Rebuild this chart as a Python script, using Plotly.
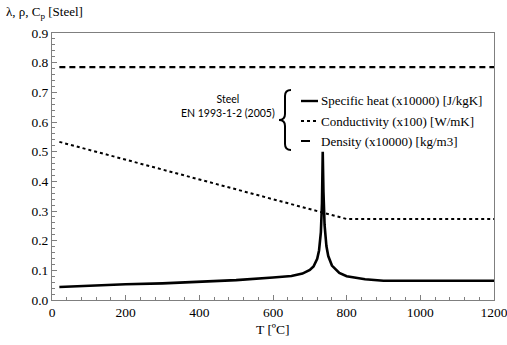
import plotly.graph_objects as go

# ---- data ----
cp_T = [20, 100, 200, 300, 400, 500, 600, 650, 680, 700, 710, 720, 725, 730, 733, 735,
        737, 740, 745, 750, 760, 780, 800, 850, 900, 1000, 1100, 1200]
cp_val = [0.044, 0.049, 0.053, 0.056, 0.061, 0.067, 0.076, 0.081, 0.089, 0.101, 0.113,
          0.139, 0.167, 0.229, 0.327, 0.500, 0.364, 0.253, 0.182, 0.148, 0.116, 0.091,
          0.080, 0.070, 0.065, 0.065, 0.065, 0.065]
k_T = [20, 800, 1200]
k_val = [0.533, 0.273, 0.273]
rho_T = [20, 1200]
rho_val = [0.785, 0.785]

legend_labels = ["Specific heat (x10000) [J/kgK]", "Conductivity (x100) [W/mK]",
                 "Density (x10000) [kg/m3]"]
x_ticks = [0, 200, 400, 600, 800, 1000, 1200]
y_ticks = [0.0, 0.1, 0.2, 0.3, 0.4, 0.5, 0.6, 0.7, 0.8, 0.9]

W, H = 507, 345
L, R, T, B = 52, 13, 33, 45
PW, PH = W - L - R, H - T - B

def px(x):
    return (x - L) / PW

def py(y):
    return (H - B - y) / PH

fig = go.Figure()
fig.add_trace(go.Scatter(x=cp_T, y=cp_val, mode="lines",
                         line=dict(color="black", width=2.6), showlegend=False))
fig.add_trace(go.Scatter(x=k_T, y=k_val, mode="lines",
                         line=dict(color="black", width=2, dash="dot"), showlegend=False))
fig.add_trace(go.Scatter(x=rho_T, y=rho_val, mode="lines",
                         line=dict(color="black", width=2.2, dash="6px,4px"), showlegend=False))

serif = "Liberation Serif"
axis_common = dict(showline=True, linecolor="#7f7f7f", linewidth=1, mirror=True,
                   ticks="inside", ticklen=5, tickcolor="#7f7f7f", showgrid=False,
                   zeroline=False, ticklabeloverflow="allow", automargin=False,
                   tickfont=dict(family=serif, size=13.5, color="black"))
fig.update_xaxes(range=[0, 1200], tickvals=x_ticks, ticktext=[str(v) for v in x_ticks],
                 minor=dict(dtick=40, ticks="inside", ticklen=3, tickcolor="#7f7f7f"),
                 **axis_common)
fig.update_yaxes(range=[0, 0.9], tickvals=y_ticks, ticktext=[f"{v:.1f}" for v in y_ticks],
                 minor=dict(dtick=0.02, ticks="inside", ticklen=3, tickcolor="#7f7f7f"),
                 **axis_common)

shapes = []
annotations = []
leg_y = [101, 121, 141]
leg_dash = ["solid", "dot", "dash"]
leg_w = [2.4, 1.8, 2]
for yy, d, wd, lab in zip(leg_y, leg_dash, leg_w, legend_labels):
    shapes.append(dict(type="line", xref="paper", yref="paper", x0=px(301), x1=px(318),
                       y0=py(yy), y1=py(yy), line=dict(color="black", width=wd, dash=d)))
    annotations.append(dict(xref="paper", yref="paper", x=px(319), y=py(yy), text=lab,
                            showarrow=False, xanchor="left", yanchor="middle",
                            font=dict(family=serif, size=13, color="black")))

# bracket
pts = [(291, 90), (285, 90), (285, 96), (285, 114), (285, 120), (279, 120), (285, 120),
       (285, 126), (285, 144), (285, 150), (291, 150)]
p = [(px(a), py(b)) for a, b in pts]
path = (f"M {p[0][0]},{p[0][1]} Q {p[1][0]},{p[1][1]} {p[2][0]},{p[2][1]} "
        f"L {p[3][0]},{p[3][1]} Q {p[4][0]},{p[4][1]} {p[5][0]},{p[5][1]} "
        f"Q {p[6][0]},{p[6][1]} {p[7][0]},{p[7][1]} L {p[8][0]},{p[8][1]} "
        f"Q {p[9][0]},{p[9][1]} {p[10][0]},{p[10][1]}")
shapes.append(dict(type="path", xref="paper", yref="paper", path=path,
                   line=dict(color="black", width=2)))

annotations.append(dict(xref="paper", yref="paper", x=px(228), y=py(106),
                        text="Steel<br>EN 1993-1-2 (2005)", showarrow=False,
                        xanchor="center", yanchor="middle", align="center",
                        font=dict(family="Lato", size=10.5, color="black")))
annotations.append(dict(xref="paper", yref="paper", x=px(4), y=py(12),
                        text="λ, ρ, C<sub>p</sub> [Steel]", showarrow=False,
                        xanchor="left", yanchor="middle",
                        font=dict(family=serif, size=13, color="black")))
annotations.append(dict(xref="paper", yref="paper", x=px(273), y=py(329),
                        text="T [ºC]", showarrow=False,
                        xanchor="center", yanchor="middle",
                        font=dict(family=serif, size=13.5, color="black")))

fig.update_layout(width=W, height=H, margin=dict(l=L, r=R, t=T, b=B),
                  plot_bgcolor="white", paper_bgcolor="white",
                  shapes=shapes, annotations=annotations, showlegend=False)
fig.write_html("out.html")
